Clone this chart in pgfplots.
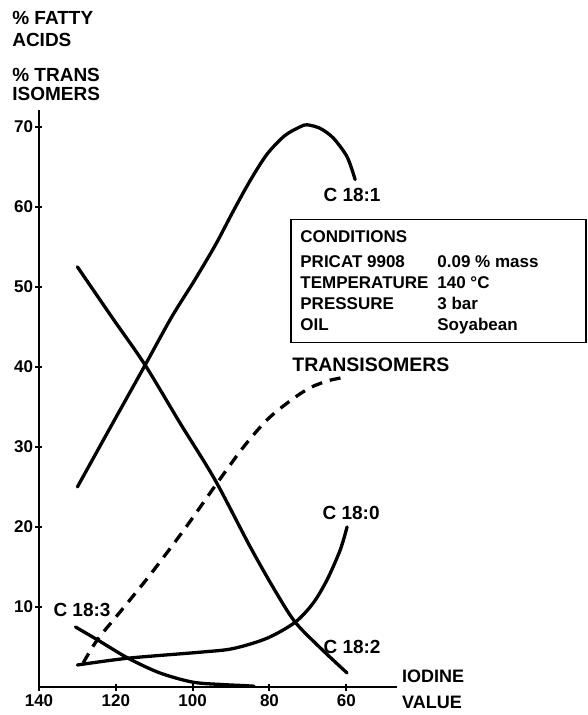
\documentclass[border=0pt]{standalone}
\usepackage{pgfplots}
\pgfplotsset{compat=1.18}
\usepackage{fontspec}
\setmainfont{Liberation Sans}
\begin{document}
\begin{tikzpicture}
\path[use as bounding box] (-39pt,-28pt) rectangle (549pt,687pt);
\begin{axis}[
  scale only axis, width=358pt, height=577pt,
  x dir=reverse, xmin=46.8, xmax=140, ymin=0, ymax=72.1,
  axis lines=left, axis line style={-, line width=2.6pt},
  clip=false,
  xtick={60,80,100,120,140}, ytick={10,20,30,40,50,60,70},
  tick align=center, major tick length=7pt,
  tick style={line width=2pt, black},
  /pgf/number format/assume math mode=true,
  ticklabel style={font=\bfseries\fontsize{17}{17}\selectfont},
  xticklabel style={yshift=-1pt},
  yticklabel style={xshift=1pt},
]
% C18:1
\addplot[black, line width=3.3pt, smooth, line cap=round] coordinates {
 (130,25.0) (121,32.8) (112.4,40.2) (105.5,46.2) (99.4,50.9) (94,55.3) (89.5,59.4) (85,63.3) (80.6,66.6) (76,68.9) (72,70.0) (70.2,70.25) (66.8,69.8) (63.4,68.6) (59.8,66.25) (57.7,63.4)};
% C18:2
\addplot[black, line width=3.3pt, smooth, line cap=round] coordinates {
 (130,52.5) (121,46.2) (112.4,40.25) (103.3,33.0) (94.2,25.9) (85,17.5) (78.5,12.0) (73.3,8.1) (66.8,4.9) (59.8,1.75)};
% C18:0
\addplot[black, line width=3.3pt, smooth, line cap=round] coordinates {
 (130,2.75) (116.8,3.6) (98,4.35) (89.5,4.8) (80.6,6.1) (73.3,8.1) (68.6,10.5) (65,13.4) (61.6,17.1) (59.8,20.0)};
% C18:3
\addplot[black, line width=3.3pt, smooth, line cap=round] coordinates {
 (130.5,7.5) (124.8,5.9) (116.8,3.6) (108.5,1.75) (99.9,0.6) (92,0.3) (87.7,0.2) (84,0.1)};
% Trans isomers
\addplot[black, line width=3.3pt, smooth, dash pattern=on 11pt off 8pt] coordinates {
 (128.5,3.0) (124.8,5.9) (118,9.9) (111.1,14.0) (102,19.8) (93.6,25.5) (86.9,29.9) (80.6,33.4) (74.5,35.8) (69.4,37.4) (64.5,38.3) (59.8,38.75)};

\node[font=\bfseries\fontsize{19}{19}\selectfont] at (axis cs:58.5,61.5) {C 18:1};
\node[font=\bfseries\fontsize{19}{19}\selectfont] at (axis cs:58.75,21.75) {C 18:0};
\node[font=\bfseries\fontsize{19}{19}\selectfont] at (axis cs:58.5,5.0) {C 18:2};
\node[font=\bfseries\fontsize{19}{19}\selectfont] at (axis cs:128.8,9.6) {C 18:3};
\node[font=\bfseries\fontsize{19.5}{19.5}\selectfont, anchor=west, inner sep=0pt] at (axis cs:74.1,40.25) {TRANSISOMERS};

\node[font=\bfseries\fontsize{19}{22}\selectfont, anchor=north west, align=left, inner sep=0pt] at (axis cs:147,84.5) {\% FATTY\\ACIDS};
\node[font=\bfseries\fontsize{19}{19}\selectfont, anchor=north west, align=left, inner sep=0pt] at (axis cs:147,77.4) {\% TRANS\\ISOMERS};
\node[font=\bfseries\fontsize{18}{26}\selectfont, anchor=west, align=left, inner sep=0pt] at (axis cs:45.5,-0.3) {IODINE\\VALUE};

\node[draw, line width=1.5pt, anchor=north west, minimum width=295pt, minimum height=123pt, inner sep=0pt] at (axis cs:74.6,58.5) {};
\node[font=\bfseries\fontsize{17}{21}\selectfont, anchor=north west, inner sep=0pt, align=left] at (axis cs:72.0,57.4) {%
\begin{tabular}{@{}p{137pt}@{}l@{}}
CONDITIONS & \\[4pt]
PRICAT 9908 & 0.09 \% mass\\
TEMPERATURE & 140 °C\\
PRESSURE & 3 bar\\
OIL & Soyabean
\end{tabular}};
\end{axis}
\end{tikzpicture}
\end{document}
